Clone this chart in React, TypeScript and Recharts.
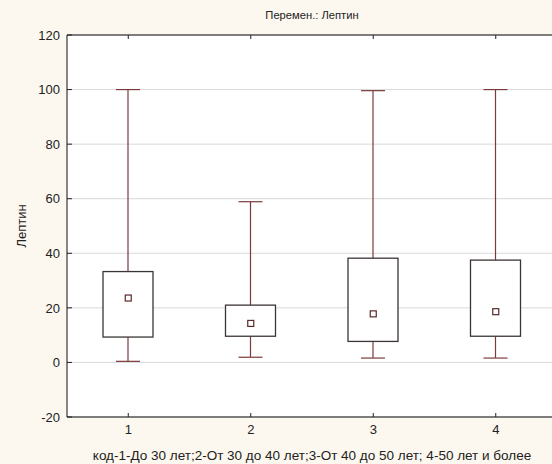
import React from "react";
import {
  Bar,
  CartesianGrid,
  ComposedChart,
  Scatter,
  XAxis,
  YAxis,
} from "recharts";

// groups on the x axis
const categories = ["1", "2", "3", "4"];
// whisker ends (min / max)
const whiskerLow = [0.4, 1.9, 1.6, 1.6];
const whiskerHigh = [100, 58.9, 99.6, 100];
// box edges
const boxLow = [9.3, 9.6, 7.7, 9.6];
const boxHigh = [33.3, 21, 38.2, 37.5];
// central point
const means = [23.6, 14.3, 17.8, 18.6];
const yTicks = [-20, 0, 20, 40, 60, 80, 100, 120];

const data = categories.map((name, i) => ({
  name,
  range: [whiskerLow[i], whiskerHigh[i]],
  q1: boxLow[i],
  q3: boxHigh[i],
  mean: means[i],
}));

const FONT = "'Liberation Sans', Arial, sans-serif";
const WHISKER = "#7a3b3b";
const BOX = "#3d3535";

// draws whisker + caps + box, pixel positions from the bar's own scale
const BoxShape = (props: any) => {
  const { x, y, width, height, payload } = props;
  const [lo, hi] = payload.range;
  const top = Math.min(y, y + height);
  const k = Math.abs(height) / (hi - lo);
  const py = (v: number) => top + (hi - v) * k;
  const cx = x + width / 2;
  const cap = 12;
  return (
    <g>
      <line x1={cx} x2={cx} y1={py(hi)} y2={py(lo)} stroke={WHISKER} strokeWidth={1.2} />
      <line x1={cx - cap} x2={cx + cap} y1={py(hi)} y2={py(hi)} stroke={WHISKER} strokeWidth={1.2} />
      <line x1={cx - cap} x2={cx + cap} y1={py(lo)} y2={py(lo)} stroke={WHISKER} strokeWidth={1.2} />
      <rect
        x={x}
        y={py(payload.q3)}
        width={width}
        height={py(payload.q1) - py(payload.q3)}
        fill="#fff"
        stroke={BOX}
        strokeWidth={1.3}
      />
    </g>
  );
};

const MeanShape = (props: any) => {
  const { cx, cy } = props;
  return (
    <rect x={cx - 3} y={cy - 3} width={6} height={6} fill="#fff" stroke="#5a2a2a" strokeWidth={1.2} />
  );
};

const YTick = (props: any) => {
  const { x, y, payload } = props;
  const axisX = x + 7;
  return (
    <g>
      <line x1={axisX} x2={axisX + 5} y1={y} y2={y} stroke="#222" />
      <text x={x} y={y} dy="0.36em" textAnchor="end" fontSize={13} fontFamily={FONT} fill="#222">
        {payload.value}
      </text>
    </g>
  );
};

const XTick = (props: any) => {
  const { x, y, payload } = props;
  const axisY = y - 7;
  return (
    <g>
      <line x1={x} x2={x} y1={axisY} y2={axisY - 4} stroke="#222" />
      <text x={x} y={y} dy="0.75em" textAnchor="middle" fontSize={13} fontFamily={FONT} fill="#222">
        {payload.value}
      </text>
    </g>
  );
};

const TopTick = (props: any) => {
  const { x, y } = props;
  return <line x1={x} x2={x} y1={y} y2={y + 4} stroke="#222" />;
};

export default function App() {
  return (
    <div
      style={{
        position: "fixed",
        left: 0,
        top: 0,
        width: 552,
        height: 464,
        background: "#fcf8ef",
      }}
    >
      <ComposedChart
        width={552}
        height={464}
        data={data}
        margin={{ top: 0, right: -5, left: 0, bottom: 0 }}
        style={{ overflow: "hidden" }}
      >
        <CartesianGrid vertical={false} stroke="#d9d9d9" fill="#fff" />
        <XAxis
          dataKey="name"
          height={47}
          axisLine={{ stroke: "#111" }}
          tickLine={false}
          tickSize={0}
          tickMargin={7}
          tick={<XTick />}
          interval={0}
          label={{
            value: "код-1-До 30 лет;2-От 30 до 40 лет;3-От 40 до 50 лет; 4-50 лет и более",
            position: "insideBottom",
            offset: 4,
            fontSize: 13.5,
            fontFamily: FONT,
            fill: "#222",
          }}
        />
        <XAxis
          xAxisId="top"
          dataKey="name"
          orientation="top"
          height={35}
          axisLine={{ stroke: "#111" }}
          tickLine={false}
          tickSize={0}
          tickMargin={0}
          tick={<TopTick />}
          interval={0}
          label={{
            value: "Перемен.: Лептин",
            position: "insideTop",
            offset: 11,
            fontSize: 11.2,
            fontFamily: FONT,
            fill: "#222",
          }}
        />
        <YAxis
          width={67}
          domain={[-20, 120]}
          ticks={yTicks}
          allowDataOverflow
          axisLine={{ stroke: "#111" }}
          tickLine={false}
          tickSize={0}
          tickMargin={7}
          tick={<YTick />}
          label={{
            value: "Лептин",
            angle: -90,
            position: "insideLeft",
            offset: 21,
            fontSize: 13,
            fontFamily: FONT,
            fill: "#222",
            style: { textAnchor: "middle" },
          }}
        />
        <Bar dataKey="range" barSize={50} shape={<BoxShape />} isAnimationActive={false} />
        <Scatter dataKey="mean" shape={<MeanShape />} isAnimationActive={false} />
      </ComposedChart>
    </div>
  );
}
